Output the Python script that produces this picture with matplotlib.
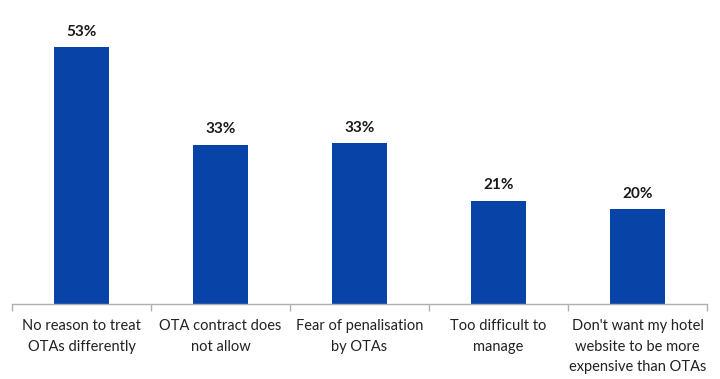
import matplotlib.pyplot as plt

categories = [
    "No reason to treat\nOTAs differently",
    "OTA contract does\nnot allow",
    "Fear of penalisation\nby OTAs",
    "Too difficult to\nmanage",
    "Don't want my hotel\nwebsite to be more\nexpensive than OTAs",
]
values = [53, 32.9, 33.2, 21.3, 19.6]
value_labels = ["53%", "33%", "33%", "21%", "20%"]

plt.rcParams['font.family'] = ['Lato', 'DejaVu Sans']

fig = plt.figure(figsize=(7.2, 3.79), dpi=100)
ax = fig.add_axes([12 / 720, 75 / 379, 695 / 720, 284 / 379])

x = list(range(len(categories)))
bars = ax.bar(x, values, width=0.4, color='#0843A8')

for bar, lab in zip(bars, value_labels):
    ax.annotate(lab, (bar.get_x() + bar.get_width() / 2, bar.get_height()),
                xytext=(0, 6), textcoords='offset points', ha='center', va='bottom',
                fontsize=11, fontweight='bold', color='#1a1a1a')

ax.set_xlim(-0.5, len(categories) - 0.5)
ax.set_ylim(0, 58.6)
ax.set_yticks([])
for s in ['top', 'right', 'left']:
    ax.spines[s].set_visible(False)
ax.spines['bottom'].set_color('#b0b0b0')
ax.spines['bottom'].set_linewidth(1)

# category labels sit between the boundary ticks
ax.set_xticks(x)
ax.set_xticklabels(categories, fontsize=10.5, color='#222222', linespacing=1.6)
ax.tick_params(axis='x', length=0, pad=11)
ax.set_xticks([i - 0.5 for i in range(len(categories) + 1)], minor=True)
ax.tick_params(axis='x', which='minor', length=5, color='#b0b0b0', width=1)

fig.savefig('out.png', dpi=100)
